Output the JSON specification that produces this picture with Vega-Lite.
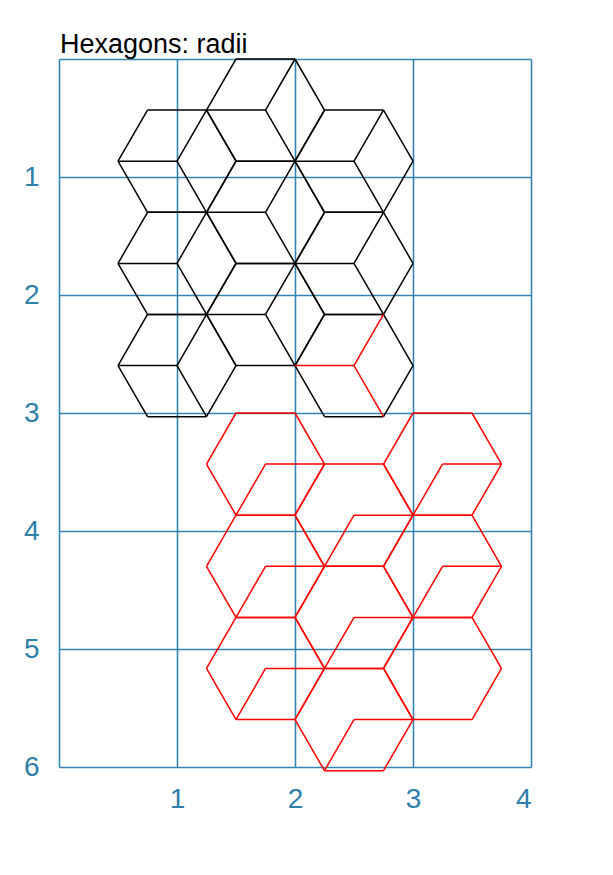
{
  "$schema": "https://vega.github.io/schema/vega-lite/v6.json",
  "width": 472,
  "height": 708,
  "autosize": "none",
  "padding": {"left": 59, "top": 59, "right": 82, "bottom": 108},
  "title": {"text": "Hexagons: radii", "anchor": "start", "frame": "group", "baseline": "alphabetic", "offset": -22, "fontSize": 27, "fontWeight": "normal", "font": "Liberation Sans", "color": "black", "dx": 1},
  "data": {"values": [
    {"x":1.25,"y":0.433,"x2":1.5,"y2":0,"c":"k"},{"x":1.5,"y":0,"x2":2,"y2":0,"c":"k"},{"x":2,"y":0,"x2":2.25,"y2":0.433,"c":"k"},{"x":2.25,"y":0.433,"x2":2,"y2":0.866,"c":"k"},{"x":2,"y":0.866,"x2":1.5,"y2":0.866,"c":"k"},{"x":1.5,"y":0.866,"x2":1.25,"y2":0.433,"c":"k"},
    {"x":1.75,"y":0.433,"x2":2,"y2":0,"c":"k"},{"x":1.75,"y":0.433,"x2":1.25,"y2":0.433,"c":"k"},{"x":1.75,"y":0.433,"x2":2,"y2":0.866,"c":"k"},

    {"x":0.5,"y":0.866,"x2":0.75,"y2":0.433,"c":"k"},{"x":0.75,"y":0.433,"x2":1.25,"y2":0.433,"c":"k"},{"x":1.25,"y":0.433,"x2":1.5,"y2":0.866,"c":"k"},{"x":1.5,"y":0.866,"x2":1.25,"y2":1.299,"c":"k"},{"x":1.25,"y":1.299,"x2":0.75,"y2":1.299,"c":"k"},{"x":0.75,"y":1.299,"x2":0.5,"y2":0.866,"c":"k"},
    {"x":1,"y":0.866,"x2":1.25,"y2":0.433,"c":"k"},{"x":1,"y":0.866,"x2":0.5,"y2":0.866,"c":"k"},{"x":1,"y":0.866,"x2":1.25,"y2":1.299,"c":"k"},

    {"x":2,"y":0.866,"x2":2.25,"y2":0.433,"c":"k"},{"x":2.25,"y":0.433,"x2":2.75,"y2":0.433,"c":"k"},{"x":2.75,"y":0.433,"x2":3,"y2":0.866,"c":"k"},{"x":3,"y":0.866,"x2":2.75,"y2":1.299,"c":"k"},{"x":2.75,"y":1.299,"x2":2.25,"y2":1.299,"c":"k"},{"x":2.25,"y":1.299,"x2":2,"y2":0.866,"c":"k"},
    {"x":2.5,"y":0.866,"x2":2.75,"y2":0.433,"c":"k"},{"x":2.5,"y":0.866,"x2":2,"y2":0.866,"c":"k"},{"x":2.5,"y":0.866,"x2":2.75,"y2":1.299,"c":"k"},

    {"x":1.25,"y":1.299,"x2":1.5,"y2":0.866,"c":"k"},{"x":1.5,"y":0.866,"x2":2,"y2":0.866,"c":"k"},{"x":2,"y":0.866,"x2":2.25,"y2":1.299,"c":"k"},{"x":2.25,"y":1.299,"x2":2,"y2":1.732,"c":"k"},{"x":2,"y":1.732,"x2":1.5,"y2":1.732,"c":"k"},{"x":1.5,"y":1.732,"x2":1.25,"y2":1.299,"c":"k"},
    {"x":1.75,"y":1.299,"x2":2,"y2":0.866,"c":"k"},{"x":1.75,"y":1.299,"x2":1.25,"y2":1.299,"c":"k"},{"x":1.75,"y":1.299,"x2":2,"y2":1.732,"c":"k"},

    {"x":0.5,"y":1.732,"x2":0.75,"y2":1.299,"c":"k"},{"x":0.75,"y":1.299,"x2":1.25,"y2":1.299,"c":"k"},{"x":1.25,"y":1.299,"x2":1.5,"y2":1.732,"c":"k"},{"x":1.5,"y":1.732,"x2":1.25,"y2":2.165,"c":"k"},{"x":1.25,"y":2.165,"x2":0.75,"y2":2.165,"c":"k"},{"x":0.75,"y":2.165,"x2":0.5,"y2":1.732,"c":"k"},
    {"x":1,"y":1.732,"x2":1.25,"y2":1.299,"c":"k"},{"x":1,"y":1.732,"x2":0.5,"y2":1.732,"c":"k"},{"x":1,"y":1.732,"x2":1.25,"y2":2.165,"c":"k"},

    {"x":2,"y":1.732,"x2":2.25,"y2":1.299,"c":"k"},{"x":2.25,"y":1.299,"x2":2.75,"y2":1.299,"c":"k"},{"x":2.75,"y":1.299,"x2":3,"y2":1.732,"c":"k"},{"x":3,"y":1.732,"x2":2.75,"y2":2.165,"c":"k"},{"x":2.75,"y":2.165,"x2":2.25,"y2":2.165,"c":"k"},{"x":2.25,"y":2.165,"x2":2,"y2":1.732,"c":"k"},
    {"x":2.5,"y":1.732,"x2":2.75,"y2":1.299,"c":"k"},{"x":2.5,"y":1.732,"x2":2,"y2":1.732,"c":"k"},{"x":2.5,"y":1.732,"x2":2.75,"y2":2.165,"c":"k"},

    {"x":1.25,"y":2.165,"x2":1.5,"y2":1.732,"c":"k"},{"x":1.5,"y":1.732,"x2":2,"y2":1.732,"c":"k"},{"x":2,"y":1.732,"x2":2.25,"y2":2.165,"c":"k"},{"x":2.25,"y":2.165,"x2":2,"y2":2.598,"c":"k"},{"x":2,"y":2.598,"x2":1.5,"y2":2.598,"c":"k"},{"x":1.5,"y":2.598,"x2":1.25,"y2":2.165,"c":"k"},
    {"x":1.75,"y":2.165,"x2":2,"y2":1.732,"c":"k"},{"x":1.75,"y":2.165,"x2":1.25,"y2":2.165,"c":"k"},{"x":1.75,"y":2.165,"x2":2,"y2":2.598,"c":"k"},

    {"x":0.5,"y":2.598,"x2":0.75,"y2":2.165,"c":"k"},{"x":0.75,"y":2.165,"x2":1.25,"y2":2.165,"c":"k"},{"x":1.25,"y":2.165,"x2":1.5,"y2":2.598,"c":"k"},{"x":1.5,"y":2.598,"x2":1.25,"y2":3.031,"c":"k"},{"x":1.25,"y":3.031,"x2":0.75,"y2":3.031,"c":"k"},{"x":0.75,"y":3.031,"x2":0.5,"y2":2.598,"c":"k"},
    {"x":1,"y":2.598,"x2":1.25,"y2":2.165,"c":"k"},{"x":1,"y":2.598,"x2":0.5,"y2":2.598,"c":"k"},{"x":1,"y":2.598,"x2":1.25,"y2":3.031,"c":"k"},

    {"x":2,"y":2.598,"x2":2.25,"y2":2.165,"c":"k"},{"x":2.25,"y":2.165,"x2":2.75,"y2":2.165,"c":"k"},{"x":2.75,"y":2.165,"x2":3,"y2":2.598,"c":"k"},{"x":3,"y":2.598,"x2":2.75,"y2":3.031,"c":"k"},{"x":2.75,"y":3.031,"x2":2.25,"y2":3.031,"c":"k"},{"x":2.25,"y":3.031,"x2":2,"y2":2.598,"c":"k"},
    {"x":2.5,"y":2.598,"x2":2.75,"y2":2.165,"c":"r"},{"x":2.5,"y":2.598,"x2":2,"y2":2.598,"c":"r"},{"x":2.5,"y":2.598,"x2":2.75,"y2":3.031,"c":"r"},

    {"x":1.25,"y":3.433,"x2":1.5,"y2":3,"c":"r"},{"x":1.5,"y":3,"x2":2,"y2":3,"c":"r"},{"x":2,"y":3,"x2":2.25,"y2":3.433,"c":"r"},{"x":2.25,"y":3.433,"x2":2,"y2":3.866,"c":"r"},{"x":2,"y":3.866,"x2":1.5,"y2":3.866,"c":"r"},{"x":1.5,"y":3.866,"x2":1.25,"y2":3.433,"c":"r"},
    {"x":1.75,"y":3.433,"x2":2.25,"y2":3.433,"c":"r"},{"x":1.75,"y":3.433,"x2":1.5,"y2":3.866,"c":"r"},

    {"x":2.75,"y":3.433,"x2":3,"y2":3,"c":"r"},{"x":3,"y":3,"x2":3.5,"y2":3,"c":"r"},{"x":3.5,"y":3,"x2":3.75,"y2":3.433,"c":"r"},{"x":3.75,"y":3.433,"x2":3.5,"y2":3.866,"c":"r"},{"x":3.5,"y":3.866,"x2":3,"y2":3.866,"c":"r"},{"x":3,"y":3.866,"x2":2.75,"y2":3.433,"c":"r"},
    {"x":3.25,"y":3.433,"x2":3.75,"y2":3.433,"c":"r"},{"x":3.25,"y":3.433,"x2":3,"y2":3.866,"c":"r"},

    {"x":2,"y":3.866,"x2":2.25,"y2":3.433,"c":"r"},{"x":2.25,"y":3.433,"x2":2.75,"y2":3.433,"c":"r"},{"x":2.75,"y":3.433,"x2":3,"y2":3.866,"c":"r"},{"x":3,"y":3.866,"x2":2.75,"y2":4.299,"c":"r"},{"x":2.75,"y":4.299,"x2":2.25,"y2":4.299,"c":"r"},{"x":2.25,"y":4.299,"x2":2,"y2":3.866,"c":"r"},
    {"x":2.5,"y":3.866,"x2":3,"y2":3.866,"c":"r"},{"x":2.5,"y":3.866,"x2":2.25,"y2":4.299,"c":"r"},

    {"x":1.25,"y":4.299,"x2":1.5,"y2":3.866,"c":"r"},{"x":1.5,"y":3.866,"x2":2,"y2":3.866,"c":"r"},{"x":2,"y":3.866,"x2":2.25,"y2":4.299,"c":"r"},{"x":2.25,"y":4.299,"x2":2,"y2":4.732,"c":"r"},{"x":2,"y":4.732,"x2":1.5,"y2":4.732,"c":"r"},{"x":1.5,"y":4.732,"x2":1.25,"y2":4.299,"c":"r"},
    {"x":1.75,"y":4.299,"x2":2.25,"y2":4.299,"c":"r"},{"x":1.75,"y":4.299,"x2":1.5,"y2":4.732,"c":"r"},

    {"x":2.75,"y":4.299,"x2":3,"y2":3.866,"c":"r"},{"x":3,"y":3.866,"x2":3.5,"y2":3.866,"c":"r"},{"x":3.5,"y":3.866,"x2":3.75,"y2":4.299,"c":"r"},{"x":3.75,"y":4.299,"x2":3.5,"y2":4.732,"c":"r"},{"x":3.5,"y":4.732,"x2":3,"y2":4.732,"c":"r"},{"x":3,"y":4.732,"x2":2.75,"y2":4.299,"c":"r"},
    {"x":3.25,"y":4.299,"x2":3.75,"y2":4.299,"c":"r"},{"x":3.25,"y":4.299,"x2":3,"y2":4.732,"c":"r"},

    {"x":2,"y":4.732,"x2":2.25,"y2":4.299,"c":"r"},{"x":2.25,"y":4.299,"x2":2.75,"y2":4.299,"c":"r"},{"x":2.75,"y":4.299,"x2":3,"y2":4.732,"c":"r"},{"x":3,"y":4.732,"x2":2.75,"y2":5.165,"c":"r"},{"x":2.75,"y":5.165,"x2":2.25,"y2":5.165,"c":"r"},{"x":2.25,"y":5.165,"x2":2,"y2":4.732,"c":"r"},
    {"x":2.5,"y":4.732,"x2":3,"y2":4.732,"c":"r"},{"x":2.5,"y":4.732,"x2":2.25,"y2":5.165,"c":"r"},

    {"x":1.25,"y":5.165,"x2":1.5,"y2":4.732,"c":"r"},{"x":1.5,"y":4.732,"x2":2,"y2":4.732,"c":"r"},{"x":2,"y":4.732,"x2":2.25,"y2":5.165,"c":"r"},{"x":2.25,"y":5.165,"x2":2,"y2":5.598,"c":"r"},{"x":2,"y":5.598,"x2":1.5,"y2":5.598,"c":"r"},{"x":1.5,"y":5.598,"x2":1.25,"y2":5.165,"c":"r"},
    {"x":1.75,"y":5.165,"x2":2.25,"y2":5.165,"c":"r"},{"x":1.75,"y":5.165,"x2":1.5,"y2":5.598,"c":"r"},

    {"x":2.75,"y":5.165,"x2":3,"y2":4.732,"c":"r"},{"x":3,"y":4.732,"x2":3.5,"y2":4.732,"c":"r"},{"x":3.5,"y":4.732,"x2":3.75,"y2":5.165,"c":"r"},{"x":3.75,"y":5.165,"x2":3.5,"y2":5.598,"c":"r"},{"x":3.5,"y":5.598,"x2":3,"y2":5.598,"c":"r"},{"x":3,"y":5.598,"x2":2.75,"y2":5.165,"c":"r"},

    {"x":2,"y":5.598,"x2":2.25,"y2":5.165,"c":"r"},{"x":2.25,"y":5.165,"x2":2.75,"y2":5.165,"c":"r"},{"x":2.75,"y":5.165,"x2":3,"y2":5.598,"c":"r"},{"x":3,"y":5.598,"x2":2.75,"y2":6.031,"c":"r"},{"x":2.75,"y":6.031,"x2":2.25,"y2":6.031,"c":"r"},{"x":2.25,"y":6.031,"x2":2,"y2":5.598,"c":"r"},
    {"x":2.5,"y":5.598,"x2":3,"y2":5.598,"c":"r"},{"x":2.5,"y":5.598,"x2":2.25,"y2":6.031,"c":"r"}
  ]},
  "mark": {"type": "rule", "strokeWidth": 1.5, "clip": false},
  "encoding": {
    "x": {"field": "x", "type": "quantitative", "scale": {"domain": [0, 4], "nice": false}, "axis": {"values": [0, 1, 2, 3, 4], "title": null, "labelExpr": "datum.value == 0 ? '' : datum.label"}},
    "y": {"field": "y", "type": "quantitative", "scale": {"domain": [0, 6], "nice": false, "reverse": true}, "axis": {"values": [0, 1, 2, 3, 4, 5, 6], "title": null, "labelExpr": "datum.value == 0 ? '' : datum.label"}},
    "x2": {"field": "x2"},
    "y2": {"field": "y2"},
    "color": {"field": "c", "type": "nominal", "scale": {"domain": ["k", "r"], "range": ["black", "red"]}, "legend": null}
  },
  "config": {
    "view": {"stroke": null},
    "axis": {"ticks": false, "domain": false, "grid": true, "gridColor": "#3385ae", "gridWidth": 1.6, "gridOpacity": 1, "labelFontSize": 28, "labelColor": "#2f80aa", "labelFont": "Liberation Sans", "labelPadding": 18},
    "axisY": {"labelPadding": 20}
  }
}
